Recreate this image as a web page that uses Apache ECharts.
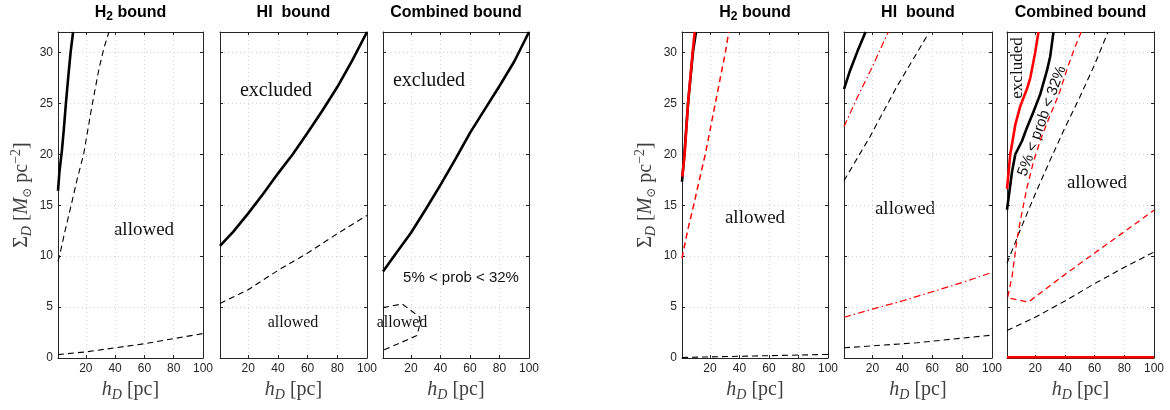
<!DOCTYPE html>
<html>
<head>
<meta charset="utf-8">
<script src="https://cdn.jsdelivr.net/npm/echarts@6/dist/echarts.min.js"></script>
<style>
html,body{margin:0;padding:0;background:#fff;}
#chart{width:1170px;height:410px;}
</style>
</head>
<body>
<div id="chart"></div>
<script>
// ---- axis ticks ----
const X_TICKS = [20, 40, 60, 80, 100];
const Y_TICKS = [0, 5, 10, 15, 20, 25, 30];
const X_MIN = 1, X_MAX = 100, Y_MIN = 0, Y_MAX = 32;

// ---- panel titles ----
const TITLES = ['{b|H}{s|2}{b| bound}', '{b|HI  bound}', '{b|Combined bound}',
                '{b|H}{s|2}{b| bound}', '{b|HI  bound}', '{b|Combined bound}'];

// ---- curves: [h_D (pc), Sigma_D (Msun/pc^2)] ----
// Left group
const p1Solid   = [[1,16.4],[2,18.3],[3.7,20.4],[5,22.5],[6.4,25],[8,27.6],[9.6,30],[11.3,32]];
const p1DashHi  = [[1,9.5],[2,10],[6,12.6],[10,15],[14,17.5],[18.5,20],[24,24.6],[29,28.4],[32.5,30.5],[35.8,32]];
const p1DashLo  = [[1,0.33],[20,0.6],[40,1.0],[60,1.4],[80,1.9],[100,2.4]];

const p2Solid   = [[1,11.0],[10,12.4],[20,14.2],[30,16.1],[40,18.1],[50,20.0],[60,22.1],[70,24.3],[80,26.6],[90,29.2],[100,32]];
const p2Dash    = [[1,5.35],[20,6.7],[40,8.6],[60,10.3],[80,12.2],[100,14.0]];

const p3Solid   = [[1,8.5],[10,10.3],[20,12.3],[30,14.6],[40,17.0],[50,19.5],[60,22.1],[70,24.4],[80,26.7],[90,29.1],[100,32]];
const p3Dash    = [[1,4.95],[14,5.3],[26,4.0],[25.5,3.0],[24,2.2],[1,0.75]];

// Right group
const p4SolidBlack = [[1,17.3],[2.6,20],[5.1,25],[8.4,30],[10.5,32]];
const p4SolidRed   = [[1.2,17.8],[2.8,20],[5.1,25],[8.2,30],[9.6,32]];
const p4DashRed    = [[1,9.8],[4.8,12.5],[8.9,15],[12.8,17.5],[16.8,20],[23.6,25],[30.4,30],[32.7,32]];
const p4DashBlack  = [[1,0.05],[50,0.2],[100,0.35]];

const p5SolidBlack = [[1,26.4],[5,28.2],[10,30.1],[15.4,32]];
const p5DDRedHi    = [[1,22.7],[10,25.6],[20,28.6],[30.6,32]];
const p5DashBlkHi  = [[1,17.4],[18.3,21.7],[36.2,26.6],[58.1,32]];
const p5DDRedLo    = [[1,4.0],[20,4.8],[40,5.6],[60,6.5],[80,7.4],[100,8.4]];
const p5DashBlkLo  = [[1,1.0],[50,1.5],[100,2.25]];

const p6SolidRed   = [[1,16.6],[3.2,20],[6.6,22.9],[9.9,24.7],[14.4,26.4],[16.7,27.5],[20,30],[22.2,32]];
const p6SolidBlack = [[1,14.55],[4.4,18.3],[6.6,20],[11.1,21.3],[14.4,22.6],[18.9,24.2],[23.4,25.9],[27.9,28.2],[30.1,29.6],[32.3,32]];
const p6DashRed    = [[51,32],[47,30.6],[42,28.6],[36,25.9],[30,23.8],[24,21.6],[18.9,19.3],[14.4,16.7],[9.9,13.4],[7.7,11.6],[4.4,8],[1.4,5.9],[15.5,5.5],[40,8.2],[60,10.3],[80,12.4],[100,14.5]];
const p6DashBlkHi  = [[1,9.3],[10,12.6],[20,16.1],[30,19.4],[40,22.6],[50,25.6],[60,28.8],[69,32]];
const p6DashBlkLo  = [[1,2.7],[20,4.0],[40,5.6],[60,7.3],[80,8.9],[100,10.4]];
const p6SolidRedLo = [[1,0.08],[100,0.08]];

// ---- styling ----
const BLACK = '#000000', RED = '#ff0000';
const DASH = [6, 4], DASHDOT = [7, 3, 1.5, 3];
const AX = '#262626';

const PANELS = [
  {left: 58,  width: 145, ylab: true,  lines: [
    {d: p1DashLo, c: BLACK, w: 1.1, t: DASH},
    {d: p1DashHi, c: BLACK, w: 1.1, t: DASH},
    {d: p1Solid,  c: BLACK, w: 2.6, t: 'solid'}]},
  {left: 220, width: 147, ylab: false, lines: [
    {d: p2Dash,  c: BLACK, w: 1.1, t: DASH},
    {d: p2Solid, c: BLACK, w: 2.6, t: 'solid'}]},
  {left: 383, width: 146, ylab: false, lines: [
    {d: p3Dash,  c: BLACK, w: 1.1, t: DASH},
    {d: p3Solid, c: BLACK, w: 2.6, t: 'solid'}]},
  {left: 682, width: 146, ylab: true,  lines: [
    {d: p4DashBlack,  c: BLACK, w: 1.1, t: DASH},
    {d: p4DashRed,    c: RED,   w: 1.5, t: DASH},
    {d: p4SolidBlack, c: BLACK, w: 2.6, t: 'solid'},
    {d: p4SolidRed,   c: RED,   w: 2.6, t: 'solid'}]},
  {left: 844, width: 148, ylab: false, lines: [
    {d: p5DashBlkLo,  c: BLACK, w: 1.1, t: DASH},
    {d: p5DDRedLo,    c: RED,   w: 1.2, t: DASHDOT},
    {d: p5DashBlkHi,  c: BLACK, w: 1.1, t: DASH},
    {d: p5DDRedHi,    c: RED,   w: 1.2, t: DASHDOT},
    {d: p5SolidBlack, c: BLACK, w: 2.6, t: 'solid'}]},
  {left: 1007, width: 147, ylab: false, lines: [
    {d: p6DashBlkLo,  c: BLACK, w: 1.1, t: DASH},
    {d: p6DashBlkHi,  c: BLACK, w: 1.1, t: DASH},
    {d: p6DashRed,    c: RED,   w: 1.3, t: DASH},
    {d: p6SolidBlack, c: BLACK, w: 2.6, t: 'solid'},
    {d: p6SolidRed,   c: RED,   w: 2.6, t: 'solid'},
    {d: p6SolidRedLo, c: RED,   w: 2.6, t: 'solid'}]}
];

const TOP = 32, HEIGHT = 326;
const SERIF = '"Liberation Serif", "DejaVu Serif", serif';
const SANS = '"Liberation Sans", Arial, Helvetica, sans-serif';
const NAME_COLOR = '#404040';
const GRID_LINE = {color: '#d4d4d4', width: 1, type: [1, 3]};

const nameRich = {
  n:   {fontFamily: SERIF, fontSize: 20, color: NAME_COLOR, lineHeight: 25},
  i:   {fontFamily: SERIF, fontSize: 20, fontStyle: 'italic', color: NAME_COLOR, lineHeight: 25},
  sub: {fontFamily: SERIF, fontSize: 14, fontStyle: 'italic', color: NAME_COLOR, lineHeight: 14, verticalAlign: 'bottom'},
  subn:{fontFamily: SERIF, fontSize: 12, color: NAME_COLOR, lineHeight: 14, verticalAlign: 'bottom'},
  sup: {fontFamily: SERIF, fontSize: 14, color: NAME_COLOR, lineHeight: 14, verticalAlign: 'top'}
};

const grids = [], xAxes = [], yAxes = [], series = [], graphics = [];

PANELS.forEach((p, i) => {
  grids.push({left: p.left, top: TOP, width: p.width, height: HEIGHT, show: false});
  xAxes.push({
    type: 'value', gridIndex: i, min: X_MIN, max: X_MAX, position: 'bottom',
    axisLine: {show: true, onZero: false, lineStyle: {color: AX, width: 1}},
    axisTick: {show: true, inside: true, length: 3, customValues: X_TICKS, lineStyle: {color: AX}},
    axisLabel: {show: true, customValues: X_TICKS, color: AX, fontSize: 12, fontFamily: SANS, margin: 5},
    splitLine: {show: true, lineStyle: GRID_LINE},
    name: '{i|h}{sub|D}{n| [pc]}', nameLocation: 'middle', nameGap: 19,
    nameTextStyle: {rich: nameRich}
  });
  xAxes.push({
    type: 'value', gridIndex: i, min: X_MIN, max: X_MAX, position: 'top',
    axisLine: {show: true, onZero: false, lineStyle: {color: AX, width: 1}},
    axisTick: {show: true, inside: true, length: 3, customValues: X_TICKS, lineStyle: {color: AX}},
    axisLabel: {show: false}, splitLine: {show: false}
  });
  yAxes.push({
    type: 'value', gridIndex: i, min: Y_MIN, max: Y_MAX, position: 'left',
    axisLine: {show: true, onZero: false, lineStyle: {color: AX, width: 1}},
    axisTick: {show: true, inside: true, length: 3, customValues: Y_TICKS, lineStyle: {color: AX}},
    axisLabel: {show: p.ylab, customValues: Y_TICKS, color: AX, fontSize: 12, fontFamily: SANS, margin: 5},
    splitLine: {show: true, lineStyle: GRID_LINE},
    name: p.ylab ? '{n|Σ}{sub|D}{n| [}{i|M}{subn|⊙}{n| pc}{sup|−2}{n|]}' : '',
    nameLocation: 'middle', nameGap: 24, nameRotate: 90,
    nameTextStyle: {rich: nameRich}
  });
  yAxes.push({
    type: 'value', gridIndex: i, min: Y_MIN, max: Y_MAX, position: 'right',
    axisLine: {show: true, onZero: false, lineStyle: {color: AX, width: 1}},
    axisTick: {show: true, inside: true, length: 3, customValues: Y_TICKS, lineStyle: {color: AX}},
    axisLabel: {show: false}, splitLine: {show: false}
  });
  p.lines.forEach(l => {
    series.push({
      type: 'line', xAxisIndex: 2 * i, yAxisIndex: 2 * i, data: l.d,
      symbol: 'none', showSymbol: false, silent: true, clip: true,
      lineStyle: {color: l.c, width: l.w, type: l.t, cap: 'butt', join: 'round'}
    });
  });
  graphics.push({
    type: 'text', x: p.left + p.width / 2, y: 13, silent: true,
    style: {
      text: TITLES[i], align: 'center', verticalAlign: 'middle',
      rich: {
        b: {fontFamily: SANS, fontSize: 16, fontWeight: 'bold', fill: '#000', lineHeight: 20},
        s: {fontFamily: SANS, fontSize: 12, fontWeight: 'bold', fill: '#000', lineHeight: 12, verticalAlign: 'bottom'}
      }
    }
  });
});

// ---- in-plot annotations ----
function txt(x, y, s, size, family, rot) {
  graphics.push({
    type: 'text', x: x, y: y, rotation: rot || 0, silent: true,
    style: {text: s, fontSize: size, fontFamily: family, fill: '#111', align: 'center', verticalAlign: 'middle'}
  });
}
txt(144, 230, 'allowed', 19, SERIF);
txt(276, 91, 'excluded', 20, SERIF);
txt(293, 323, 'allowed', 16, SERIF);
txt(429, 81, 'excluded', 20, SERIF);
txt(461, 278, '5% < prob < 32%', 15, SANS);
txt(402, 323, 'allowed', 16, SERIF);
txt(755, 218, 'allowed', 19, SERIF);
txt(905, 209, 'allowed', 19, SERIF);
txt(1097, 183, 'allowed', 19, SERIF);
txt(1018, 68, 'excluded', 17, SERIF, Math.PI / 2);
txt(1042, 121, '5% < prob < 32%', 15, SANS, 70 * Math.PI / 180);

const chart = echarts.init(document.getElementById('chart'), null, {renderer: 'canvas'});
chart.setOption({
  animation: false,
  backgroundColor: '#ffffff',
  grid: grids, xAxis: xAxes, yAxis: yAxes, series: series, graphic: graphics
});
</script>
</body>
</html>
